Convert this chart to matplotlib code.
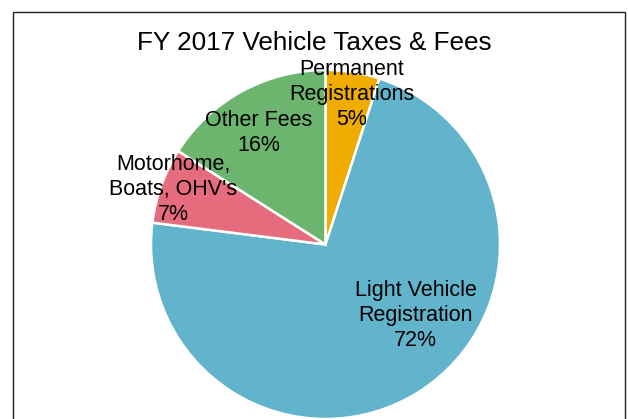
import matplotlib
matplotlib.use("Agg")
import matplotlib.pyplot as plt
from matplotlib.patches import Rectangle

plt.rcParams['font.family'] = ['Liberation Sans', 'DejaVu Sans']

title = "FY 2017 Vehicle Taxes & Fees"
categories = ["Permanent\nRegistrations", "Light Vehicle\nRegistration",
              "Motorhome,\nBoats, OHV's", "Other Fees"]
values = [5, 72, 7, 16]
colors = ["#F0AD00", "#62B4CD", "#E66B7C", "#6BB56F"]
# label anchor positions (in pie-radius units)
label_pos = [(0.152, 0.860), (0.516, -0.405), (-0.874, 0.318), (-0.381, 0.640)]

W, H = 628, 419
fig = plt.figure(figsize=(W / 100, H / 100), dpi=100)
ax = fig.add_axes([0, 0, 1, 1])

cx, cy, r = 325.5, 244.5, 174.5
ax.pie(values, colors=colors, startangle=90, counterclock=False,
       radius=1.0, center=(0, 0),
       wedgeprops=dict(edgecolor="white", linewidth=1.8))

total = sum(values)
for cat, v, (x, y) in zip(categories, values, label_pos):
    ax.text(x, y, f"{cat}\n{round(100 * v / total)}%", ha="center", va="center",
            fontsize=15.5, color="black", linespacing=1.25)

ax.set_xlim(-cx / r, (W - cx) / r)
ax.set_ylim(-(H - cy) / r, cy / r)
ax.set_aspect("equal")
ax.axis("off")

fig.text(314 / W, 1 - 43 / H, title, ha="center", va="center", fontsize=18.8)

border = Rectangle((13 / W, -0.05), (625 - 13) / W, 1.05 - 12 / H,
                   transform=fig.transFigure, fill=False,
                   edgecolor="#222222", linewidth=1.0)
fig.patches.append(border)

fig.savefig("out.png", dpi=100, facecolor="white")
